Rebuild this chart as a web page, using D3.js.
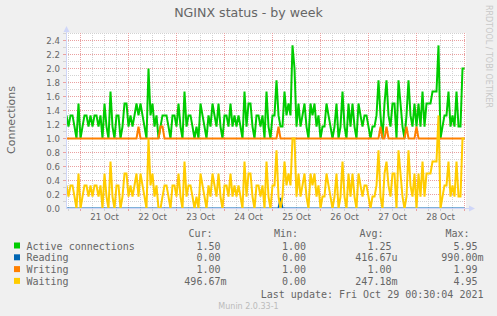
<!DOCTYPE html>
<html><head><meta charset="utf-8">
<script src="https://cdn.jsdelivr.net/npm/d3@7/dist/d3.min.js"></script>
<style>body{margin:0;background:#f0f0f0}svg{display:block}</style>
</head><body>
<svg id="c" width="497" height="316"></svg>
<script>
// ---------- data (hourly points, Oct 20 17:00 .. Oct 29 00:00) ----------
const activeConnections = [
1.33,1.17,1.33,1.33,1.17,1.0,1.5,1.0,1.17,1.33,1.33,1.17,1.33,1.17,1.33,1.33,1.17,1.33,1.0,1.5,
1.17,1.0,1.67,1.17,1.0,1.33,1.33,1.0,1.17,1.5,1.5,1.17,1.33,1.17,1.33,1.5,1.33,1.5,1.33,1.17,
1.0,2.0,1.33,1.5,1.17,1.33,1.0,1.17,1.33,1.33,1.33,1.17,1.0,1.33,1.33,1.17,1.5,1.17,1.0,1.67,
1.17,1.33,1.33,1.17,1.0,1.17,1.0,1.5,1.33,1.17,1.0,1.33,1.17,1.5,1.33,1.17,1.5,1.17,1.0,1.33,
1.33,1.17,1.5,1.17,1.33,1.17,1.33,1.17,1.0,1.67,1.17,1.5,1.5,1.17,1.0,1.33,1.33,1.17,1.33,1.0,
1.67,1.17,1.0,1.33,1.33,1.83,1.33,1.17,1.17,1.67,1.33,1.5,1.33,2.33,2.0,1.17,1.5,1.17,1.33,1.5,
1.17,1.0,1.5,1.33,1.5,1.17,1.33,1.0,1.17,1.17,1.5,1.33,1.17,1.0,1.17,1.5,1.0,1.17,1.67,1.17,
1.0,1.5,1.17,1.5,1.17,1.0,1.5,1.33,1.17,1.33,1.33,1.17,1.0,1.17,1.17,1.33,1.83,1.33,1.0,1.5,
1.83,1.33,1.17,1.5,1.5,1.0,1.83,1.5,1.17,1.0,1.33,1.83,1.33,1.17,1.5,1.17,1.5,1.17,1.67,1.17,
1.5,1.5,1.5,1.67,1.67,1.67,2.33,1.0,1.17,1.33,1.33,1.67,1.17,1.33,1.17,1.67,1.17,1.17,2.0,2.0
];
const reading = [
0,0,0,0,0,0,0,0,0,0,0,0,0,0,0,0,0,0,0,0,
0,0,0,0,0,0,0,0,0,0,0,0,0,0,0,0,0,0,0,0,
0,0,0,0,0,0,0,0,0,0,0,0,0,0,0,0,0,0,0,0,
0,0,0,0,0,0,0,0,0,0,0,0,0,0,0,0,0,0,0,0,
0,0,0,0,0,0,0,0,0,0,0,0,0,0,0,0,0,0,0,0,
0,0,0,0,0,0,0,0.15,0,0,0,0,0,0,0,0,0,0,0,0,
0,0,0,0,0,0,0,0,0,0,0,0,0,0,0,0,0,0,0,0,
0,0,0,0,0,0,0,0,0,0,0,0,0,0,0,0,0,0,0,0,
0,0,0,0,0,0,0,0,0,0,0,0,0,0,0,0,0,0,0,0,
0,0,0,0,0,0,0,0,0,0,0,0,0,0,0,0,0,0,0,0
];
const writing = [
1,1,1,1,1,1,1,1,1,1,1,1,1,1,1,1,1,1,1,1,
1,1,1,1,1,1,1,1,1,1,1,1,1,1,1,1,1.17,1,1,1,
1,1,1,1,1,1,1,1.17,1.17,1,1,1,1,1,1,1,1,1,1,1,
1,1,1,1,1,1,1,1,1,1,1,1,1,1,1,1,1,1,1,1,
1,1,1,1,1,1,1,1,1,1,1,1,1,1,1,1,1,1,1,1,
1,1,1,1,1,1,1.17,1,1,1,1,1,1,1,1,1,1,1,1,1,
1,1,1,1,1,1,1,1,1,1,1,1,1,1,1,1,1,1,1,1,
1,1,1,1,1,1,1,1,1,1,1,1,1,1,1,1,1,1.17,1,1,
1.17,1,1,1,1,1,1,1,1,1,1.17,1,1,1,1,1.17,1,1,1,1,
1,1,1,1,1,1,1,1,1,1,1,1,1,1,1,1,1,1,1,1
];
const waiting = [
0.33,0.17,0.33,0.33,0.17,0,0.5,0,0.17,0.33,0.33,0.17,0.33,0.17,0.33,0.33,0.17,0.33,0,0.5,
0.17,0,0.67,0.17,0,0.33,0.33,0,0.17,0.5,0.5,0.17,0.33,0.17,0.33,0.5,0.17,0.5,0.33,0.17,
0,1.0,0.33,0.5,0.17,0.33,0,0,0.17,0.33,0.33,0.17,0,0.33,0.33,0.17,0.5,0.17,0,0.67,
0.17,0.33,0.33,0.17,0,0.17,0,0.5,0.33,0.17,0,0.33,0.17,0.5,0.33,0.17,0.5,0.17,0,0.33,
0.33,0.17,0.5,0.17,0.33,0.17,0.33,0.17,0,0.67,0.17,0.5,0.5,0.17,0,0.33,0.33,0.17,0.33,0,
0.67,0.17,0,0.33,0.33,0.83,0.17,0,0.17,0.67,0.33,0.5,0.33,1.0,1.0,0.17,0.5,0.17,0.33,0.5,
0.17,0,0.5,0.33,0.5,0.17,0.33,0,0.17,0.17,0.5,0.33,0.17,0,0.17,0.5,0,0.17,0.67,0.17,
0,0.5,0.17,0.5,0.17,0,0.5,0.33,0.17,0.33,0.33,0.17,0,0.17,0.17,0.33,0.83,0.17,0,0.5,
0.67,0.33,0.17,0.5,0.5,0,0.83,0.5,0.17,0,0.17,0.83,0.33,0.17,0.5,0,0.5,0.17,0.67,0.17,
0.5,0.5,0.5,0.67,0.67,0.67,1.33,0,0.17,0.33,0.33,0.67,0.17,0.33,0.17,0.67,0.17,0.17,1.0,1.0
];
const seriesNames = ["Active connections","Reading","Writing","Waiting"];
const seriesColors = ["#00cc00","#0066b3","#ff8000","#ffcc00"];
const curValues = ["1.50","0.00","1.00","496.67m"];
const minValues = ["1.00","0.00","1.00","0.00"];
const avgValues = ["1.25","416.67u","1.00","247.18m"];
const maxValues = ["5.95","990.00m","1.99","4.95"];
const yTickValues = [0,0.2,0.4,0.6,0.8,1.0,1.2,1.4,1.6,1.8,2.0,2.2,2.4];
const dayLabels = ["21 Oct","22 Oct","23 Oct","24 Oct","25 Oct","26 Oct","27 Oct","28 Oct"];
const titleText = "NGINX status - by week";
const yLabel = "Connections";
const lastUpdate = "Last update: Fri Oct 29 00:30:04 2021";
const footer = "Munin 2.0.33-1";
const watermark = "RRDTOOL / TOBI OETIKER";

// ---------- drawing ----------
const svg = d3.select("#c");
const W = 497, H = 316;
const L = 65.5, R = 465.5, T = 33.5, B = 208.5;
const t0 = new Date(2021, 9, 20, 16, 30), t1 = new Date(2021, 9, 29, 0, 30);
const x = d3.scaleTime().domain([t0, t1]).range([L, R]);
const y = d3.scaleLinear().domain([0, 2.5]).range([B, T]);
const firstPoint = new Date(2021, 9, 20, 17, 0);
const times = activeConnections.map((_, i) => d3.timeHour.offset(firstPoint, i));

svg.append("rect").attr("width", W).attr("height", H).attr("fill", "#f0f0f0");
svg.append("rect").attr("x", 66).attr("y", 33).attr("width", 400).attr("height", 176).attr("fill", "#ffffff");

const MINOR = "#d2d2d2", MAJOR = "#eaa0a0";
const grid = svg.append("g").attr("shape-rendering", "crispEdges");
// horizontal grid
d3.range(1, 26).forEach(k => {
  const v = k / 10, yy = Math.round(y(v) - 0.5) + 0.5;
  const major = k % 2 === 0;
  grid.append("line").attr("x1", 66).attr("x2", 466).attr("y1", yy).attr("y2", yy)
    .attr("stroke", major ? MAJOR : MINOR).attr("stroke-dasharray", "1,1");
  grid.append("line").attr("x1", 63).attr("x2", 66).attr("y1", yy).attr("y2", yy)
    .attr("stroke", major ? MAJOR : MINOR);
});
// vertical grid
d3.timeHour.every(6).range(t0, t1).forEach(t => {
  const xx = Math.round(x(t) - 0.5) + 0.5;
  const major = t.getHours() === 0;
  grid.append("line").attr("x1", xx).attr("x2", xx).attr("y1", 33).attr("y2", 208)
    .attr("stroke", major ? MAJOR : MINOR).attr("stroke-dasharray", "1,1");
  grid.append("line").attr("x1", xx).attr("x2", xx).attr("y1", 209).attr("y2", 211)
    .attr("stroke", major ? MAJOR : MINOR);
});

// series
svg.append("clipPath").attr("id", "clip").append("rect")
  .attr("x", 66).attr("y", 33).attr("width", 400).attr("height", 175.2);
const line = d3.line().x((d, i) => x(times[i])).y(d => y(d));
const plot = svg.append("g").attr("clip-path", "url(#clip)");
[activeConnections, reading, writing, waiting].forEach((s, k) => {
  plot.append("path").datum(s).attr("d", line).attr("fill", "none")
    .attr("stroke", seriesColors[k]).attr("stroke-width", 2).attr("stroke-linejoin", "miter");
});

// axes
const AX = "#cfd6f8";
svg.append("line").attr("x1", 66.5).attr("x2", 66.5).attr("y1", 209).attr("y2", 30)
  .attr("stroke", AX).attr("shape-rendering", "crispEdges");
svg.append("line").attr("x1", 66).attr("x2", 470).attr("y1", 208.5).attr("y2", 208.5)
  .attr("stroke", AX).attr("shape-rendering", "crispEdges");
svg.append("path").attr("d", "M63.5,32 L69.5,32 L66.5,26 Z").attr("fill", AX);
svg.append("path").attr("d", "M469,205.5 L469,211.5 L475,208.5 Z").attr("fill", AX);

const FONT = "#666666";
// y tick labels
svg.append("g").selectAll("text").data(yTickValues).join("text")
  .attr("x", 60).attr("y", d => y(d) + 3)
  .attr("text-anchor", "end").attr("font-family", "DejaVu Sans").attr("font-size", 8.6)
  .attr("fill", FONT).text(d => d3.format(".1f")(d));
// x tick labels (noon of each day)
const noonTicks = dayLabels.map((_, i) => new Date(2021, 9, 21 + i, 12, 0));
svg.append("g").selectAll("text").data(noonTicks).join("text")
  .attr("x", d => x(d)).attr("y", 219.5)
  .attr("text-anchor", "middle").attr("font-family", "DejaVu Sans").attr("font-size", 8.6)
  .attr("fill", FONT).text((d, i) => dayLabels[i]);

// title
svg.append("text").attr("x", 248.5).attr("y", 17).attr("text-anchor", "middle")
  .attr("font-family", "DejaVu Sans").attr("font-size", 12.6).attr("fill", FONT).text(titleText);
// y label
svg.append("text").attr("transform", "translate(14.5,120) rotate(-90)").attr("text-anchor", "middle")
  .attr("font-family", "DejaVu Sans").attr("font-size", 11).attr("fill", FONT).text(yLabel);
// watermark
svg.append("text").attr("transform", "translate(486,56.5) rotate(90)").attr("text-anchor", "middle")
  .attr("font-family", "DejaVu Sans").attr("font-size", 8).attr("fill", "#c8c8c8").text(watermark);

// legend
const MONO = "DejaVu Sans Mono";
const lg = svg.append("g").attr("font-family", MONO).attr("font-size", 10).attr("fill", FONT);
const headers = [["Cur:", 212.5], ["Min:", 298], ["Avg:", 383.5], ["Max:", 469.5]];
headers.forEach(h => lg.append("text").attr("x", h[1]).attr("y", 237).attr("text-anchor", "end").text(h[0]));
const cols = [[curValues, 220.5], [minValues, 306], [avgValues, 391.5], [maxValues, 477.5]];
seriesNames.forEach((name, i) => {
  const by = 249.5 + i * 11.8;
  svg.append("rect").attr("x", 14).attr("y", by - 7).attr("width", 6).attr("height", 6)
    .attr("fill", seriesColors[i]);
  lg.append("text").attr("x", 26.5).attr("y", by).text(name);
  cols.forEach(c => {
    const v = c[0][i];
    const suffixed = /[a-z]$/i.test(v);
    lg.append("text").attr("x", c[1] + (suffixed ? 6 : 0)).attr("y", by)
      .attr("text-anchor", "end").text(v);
  });
});
lg.append("text").attr("x", 483.5).attr("y", 297.5).attr("text-anchor", "end").text(lastUpdate);
svg.append("text").attr("x", 248.5).attr("y", 308.5).attr("text-anchor", "middle")
  .attr("font-family", "DejaVu Sans").attr("font-size", 8).attr("fill", "#bbbbbb").text(footer);
</script>
</body></html>
